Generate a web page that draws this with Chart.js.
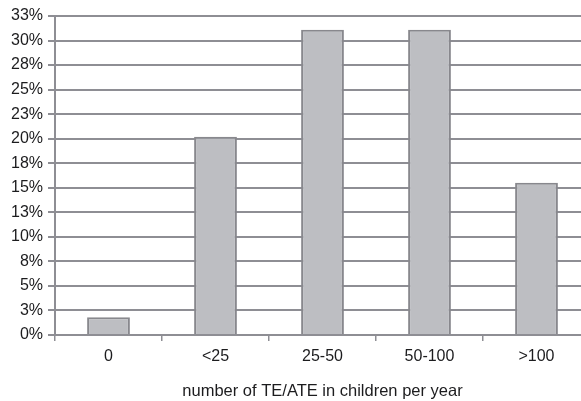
<!DOCTYPE html>
<html>
<head>
<meta charset="utf-8">
<script src="https://cdn.jsdelivr.net/npm/chart.js@4/dist/chart.umd.min.js"></script>
<style>
  html, body { margin: 0; padding: 0; background: #fff; overflow: hidden; }
  #wrap { width: 600px; height: 401px; }
</style>
</head>
<body>
<div id="wrap"><canvas id="chart"></canvas></div>
<script>
const categorias = ['0', '<25', '25-50', '50-100', '>100'];
const percentuais = [1.8, 20.2, 31.1, 31.1, 15.5];
const yMax = 32.5;
const yPasso = 2.5;
const tituloX = 'number of TE/ATE in children per year';

const corGrade = '#8e8e94';
const corTexto = '#1c1c1e';

const ctx = document.getElementById('chart');

new Chart(ctx, {
    type: 'bar',
    data: {
        labels: categorias,
        datasets: [{
            data: percentuais,
            backgroundColor: '#bdbec2',
            borderColor: '#88888d',
            borderWidth: 2,
            barPercentage: 0.4,
            categoryPercentage: 1
        }]
    },
    options: {
        responsive: true, maintainAspectRatio: false,
        animation: false,
        layout: { padding: { top: 16, right: 10, left: 0, bottom: 0 } },
        plugins: { legend: { display: false }, tooltip: { enabled: false } },
        scales: {
            x: {
                grid: { drawOnChartArea: false, color: corGrade, lineWidth: 1.5, tickLength: 6 },
                border: { color: corGrade, width: 2 },
                ticks: { color: corTexto, font: { family: 'Liberation Sans', size: 16 }, padding: 6, maxRotation: 0 },
                title: {
                    display: true, text: tituloX, color: corTexto,
                    font: { family: 'Liberation Sans', size: 16.5 },
                    padding: { top: 12, bottom: 0 }
                },
                afterFit: (s) => { s.height = 66; }
            },
            y: {
                min: 0, max: yMax,
                grid: { color: corGrade, lineWidth: 2, tickLength: 7 },
                border: { color: corGrade, width: 2 },
                ticks: {
                    stepSize: yPasso, color: corTexto, padding: 5,
                    font: { family: 'Liberation Sans', size: 16 },
                    callback: (v) => Math.round(v) + '%'
                },
                afterFit: (s) => { s.width = 55; }
            }
        }
    }
});
</script>
</body>
</html>
